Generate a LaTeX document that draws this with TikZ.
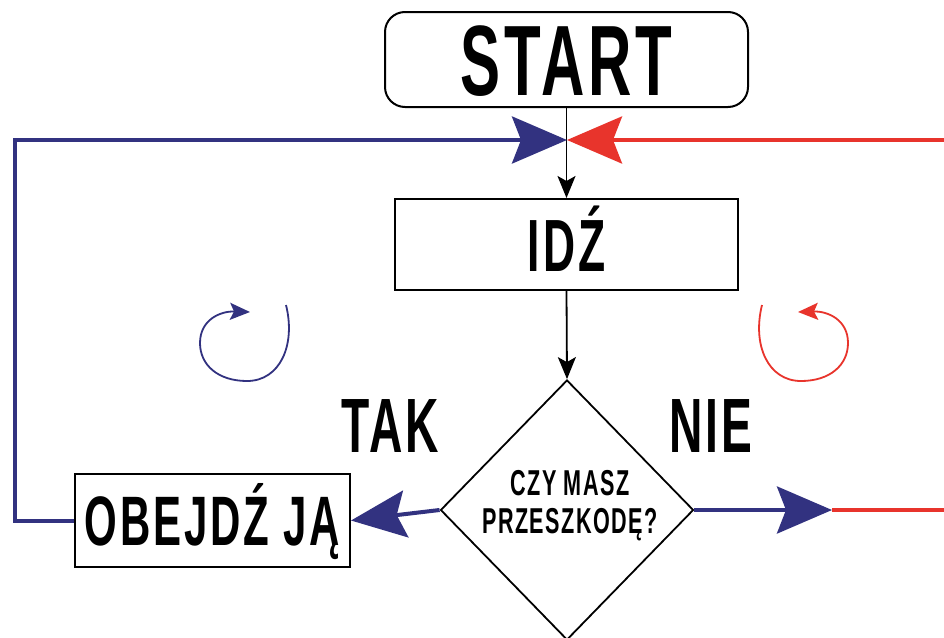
\documentclass[tikz,border=0pt]{standalone}
\usepackage{fontspec}
\setmainfont{Liberation Sans}[FakeStretch=0.6,LetterSpace=4]
\usetikzlibrary{arrows.meta,shapes.geometric}
\definecolor{navyc}{RGB}{50,50,128}
\definecolor{redc}{RGB}{232,52,44}
\begin{document}
\begin{tikzpicture}[x=1pt,y=-1pt,
  box/.style={draw,line width=2pt,inner sep=0pt,text depth=0pt},
  blk/.style={draw=black,line width=1.8pt,-{Stealth[length=22pt,width=18pt,inset=5pt]}},
  bigtip/.style={-{Stealth[length=55pt,width=47pt,inset=9pt]}},
  navyline/.style={draw=navyc,line width=4pt},
  redline/.style={draw=redc,line width=4pt},
  loopline/.style={line width=1.8pt,-{Stealth[length=20pt,width=17pt,inset=4pt]}},
  lbl/.style={anchor=base,inner sep=0pt,font=\bfseries\fontsize{77}{80}\selectfont},
  qtxt/.style={anchor=base,inner sep=0pt,font=\bfseries\fontsize{36}{40}\selectfont}
]
\useasboundingbox (0,0) rectangle (944,637);
\fill[white] (0,0) rectangle (944,637);

% nodes
\node[box,rounded corners=20pt,minimum width=363pt,minimum height=95pt,text height=72pt,
  font=\bfseries\fontsize{100}{100}\selectfont] (start) at (566.5,59.5) {START};
\node[box,minimum width=343pt,minimum height=91pt,text height=53pt,
  font=\bfseries\fontsize{74}{74}\selectfont] (idz) at (566.5,244.5) {IDŹ};
\node[box,minimum width=275pt,minimum height=93pt,text height=50pt,
  font=\bfseries\fontsize{70}{70}\selectfont] (obj) at (212.5,520.5) {OBEJDŹ JĄ};
\node[draw,diamond,line width=1.8pt,minimum width=253pt,minimum height=260pt,inner sep=0pt] (dia) at (567,510) {};
\node[qtxt] (q1) at (570,495) {CZY MASZ};
\node[qtxt] (q2) at (570,533) {PRZESZKODĘ?};
\node[lbl] (tak) at (390,452) {TAK};
\node[lbl] (nie) at (711,452) {NIE};

% coordinates
\coordinate (mid) at (567,140);
\coordinate (lc) at (15,140);
\coordinate (rc) at (944,140);
\coordinate (rj) at (832,510);
\coordinate (re) at (944,510);

% black connectors
\draw[blk] (start.south) -- (idz.north);
\draw[blk] (idz.south) -- (dia.north);

% loops
\draw[navyline,bigtip] (obj.west) -| (lc) -- (mid);
\draw[redline,bigtip] (rc) -- (mid);
\draw[navyline,bigtip] (dia.west) -- (obj.east);
\draw[redline] (rj) -- (re);
\draw[navyline,bigtip] (dia.east) -- (rj);

% circular arrows
\draw[navyc,loopline] (286,305) .. controls (296,345) and (280,381) .. (247,381)
  .. controls (218,381) and (200,365) .. (200,343)
  .. controls (200,320) and (220,311) .. (250,312);
\draw[redc,loopline] (762,305) .. controls (752,345) and (768,381) .. (801,381)
  .. controls (830,381) and (848,365) .. (848,343)
  .. controls (848,320) and (828,311) .. (798,312);
\end{tikzpicture}
\end{document}
